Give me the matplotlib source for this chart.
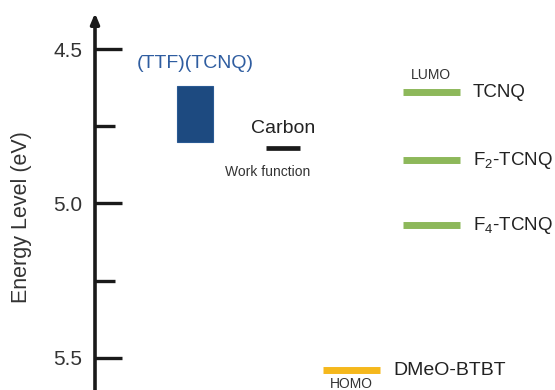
import matplotlib.pyplot as plt
from matplotlib.ticker import MultipleLocator

plt.rcParams['font.family'] = ['Liberation Sans', 'DejaVu Sans']
plt.rcParams['mathtext.fontset'] = 'custom'
plt.rcParams['mathtext.rm'] = 'Liberation Sans'
plt.rcParams['mathtext.it'] = 'Liberation Sans'

# energy levels (eV)
ttf_tcnq = [4.62, 4.80]          # top / bottom of the band
carbon_wf = 4.82
acceptors = ['TCNQ', 'F$_2$-TCNQ', 'F$_4$-TCNQ']
lumo = [4.64, 4.86, 5.07]
donor = 'DMeO-BTBT'
homo = 5.54

fig = plt.figure(figsize=(5.55, 3.9), dpi=100)
ax = fig.add_axes([95 / 555, 0, 1 - 95 / 555, 1])
ax.set_xlim(0, 460)
ax.set_ylim(5.6036, 4.3414)

for s in ax.spines.values():
    s.set_visible(False)

# vertical energy axis with arrow
ax.annotate('', xy=(0, 4.384), xytext=(0, 5.62),
            arrowprops=dict(arrowstyle='-|>,head_width=0.25,head_length=0.6',
                            color='#1a1a1a', lw=2.6, shrinkA=0, shrinkB=0))

ax.yaxis.set_major_locator(MultipleLocator(0.5))
ax.yaxis.set_minor_locator(MultipleLocator(0.25))
ax.yaxis.set_major_formatter(lambda v, p: f'{v:.1f}')
ax.tick_params(axis='y', which='major', direction='in', length=19.5, width=2.4,
               color='#1a1a1a', labelsize=15, pad=9, labelcolor='#333333')
ax.tick_params(axis='y', which='minor', direction='in', length=14.5, width=2.4,
               color='#1a1a1a')
ax.set_xticks([])
ax.set_ylabel('Energy Level (eV)', fontsize=15.5, color='#333333')
ax.yaxis.set_label_coords(-0.136, 0.444)

# (TTF)(TCNQ) band
ax.bar(100, ttf_tcnq[1] - ttf_tcnq[0], bottom=ttf_tcnq[0], width=36,
       color='#1d4a80', edgecolor='#2a5a93', lw=0.8)
ax.text(100, 4.547, '(TTF)(TCNQ)', color='#2f5da0', fontsize=14,
        ha='center', va='center')

# carbon work function
ax.hlines(carbon_wf, 171, 205, color='#1a1a1a', lw=3.4)
ax.text(188, 4.757, 'Carbon', fontsize=14, color='#222222', ha='center', va='center')
ax.text(173, 4.898, 'Work function', fontsize=10, color='#333333', ha='center', va='center')

# acceptor LUMO levels
for name, e in zip(acceptors, lumo):
    ax.hlines(e, 308, 365, color='#8db85a', lw=5)
    ax.text(378, e, name, fontsize=13.5, color='#222222', ha='left', va='center')
ax.text(336, 4.585, 'LUMO', fontsize=10, color='#333333', ha='center', va='center')

# donor HOMO level
ax.hlines(homo, 228, 285, color='#f5b81c', lw=5)
ax.text(298, homo, donor, fontsize=14, color='#222222', ha='left', va='center')
ax.text(256, 5.585, 'HOMO', fontsize=10, color='#333333', ha='center', va='center')

fig.savefig('out.png', dpi=100)
